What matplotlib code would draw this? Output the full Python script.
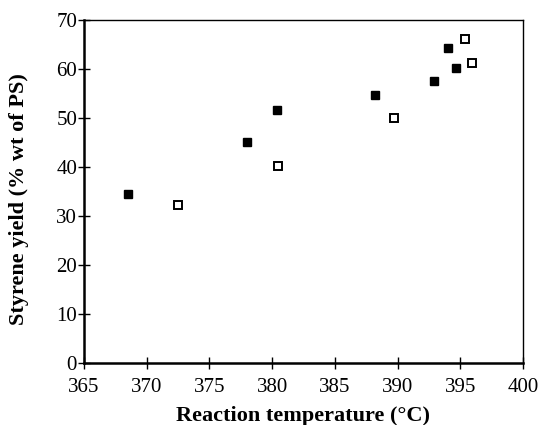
import matplotlib
matplotlib.use("Agg")
import matplotlib.pyplot as plt

plt.rcParams['font.family'] = ['Liberation Serif', 'DejaVu Serif']

# filled squares
temp_filled = [368.5, 378.0, 380.4, 388.2, 392.9, 394.05, 394.7]
yield_filled = [34.5, 45.0, 51.6, 54.6, 57.6, 64.2, 60.1]
# open squares
temp_open = [372.5, 380.5, 389.7, 395.4, 395.9]
yield_open = [32.2, 40.2, 49.9, 66.1, 61.3]

fig = plt.figure(figsize=(5.47, 4.25), dpi=100)
ax = fig.add_axes([0.1536, 0.146, 0.8024, 0.807])

ax.plot(temp_filled, yield_filled, ls="none", marker="s", markersize=5.5,
        color="black")
ax.plot(temp_open, yield_open, ls="none", marker="s", markersize=5.5,
        markerfacecolor="white", markeredgecolor="black", markeredgewidth=1.4)

ax.set_xlim(365, 400)
ax.set_ylim(0, 70)
ax.set_xticks(range(365, 401, 5))
ax.set_yticks(range(0, 71, 10))
ax.tick_params(direction="inout", length=8, width=1, labelsize=15)
ax.tick_params(axis="y", pad=1)
ax.tick_params(axis="x", pad=6.5)
for s in ["left", "bottom"]:
    ax.spines[s].set_linewidth(1.8)
for s in ["right", "top"]:
    ax.spines[s].set_linewidth(1.0)

ax.set_xlabel("Reaction temperature (°C)", fontsize=16, fontweight="bold",
              labelpad=7)
ax.set_ylabel("Styrene yield (% wt of PS)", fontsize=16, fontweight="bold")
ax.yaxis.set_label_coords(-0.125, 0.478)

fig.savefig("out.png", dpi=100)
